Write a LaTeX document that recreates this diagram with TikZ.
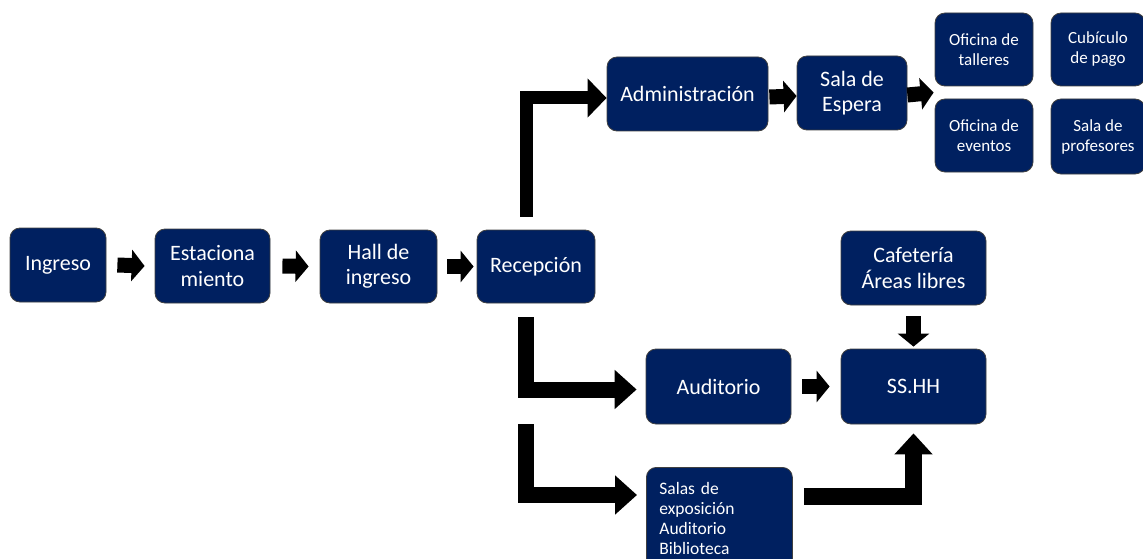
\documentclass[tikz,border=0pt]{standalone}
\usepackage{fontspec}
\setmainfont{Carlito}
\usetikzlibrary{arrows.meta,calc}
\definecolor{navyc}{HTML}{002060}
\definecolor{edgec}{HTML}{404040}
\begin{document}
\begin{tikzpicture}[x=1pt,y=-1pt,
  box/.style={draw=edgec,line width=0.8pt,fill=navyc,rounded corners=10pt,text=white,
    inner sep=2pt,align=center,font=\fontsize{22}{25.5}\selectfont},
  sbox/.style={box,font=\fontsize{17}{20}\selectfont},
  sarrow/.style={line width=15pt,-{Triangle[length=13pt,width=31pt]}},
  barrow/.style={line width=16pt,line join=miter,-{Triangle[length=22pt,width=38pt]}}]
\useasboundingbox (0,0) rectangle (1143,559);
% nodes
\node[box,minimum width=96pt,minimum height=74pt] (ingreso) at (58,265) {Ingreso};
\node[box,minimum width=115pt,minimum height=74pt] (est) at (212.5,266) {Estaciona\\miento};
\node[box,minimum width=117pt,minimum height=73pt] (hall) at (378.5,266.5) {Hall de\\ingreso};
\node[box,minimum width=118pt,minimum height=73pt] (recep) at (536,266.5) {Recepción};
\node[box,minimum width=161pt,minimum height=74pt] (admin) at (687.5,94) {Administración};
\node[box,minimum width=110pt,minimum height=74pt] (sala) at (852,93) {Sala de\\Espera};
\node[sbox,minimum width=98pt,minimum height=73pt] (oft) at (984,49.5) {Oficina de\\talleres};
\node[sbox,minimum width=98pt,minimum height=73pt] (ofe) at (984,135.5) {Oficina de\\eventos};
\node[sbox,minimum width=94pt,minimum height=73pt] (cub) at (1098,49.5) {Cubículo\\de pago};
\node[sbox,minimum width=94pt,minimum height=75pt] (prof) at (1098,136.5) {Sala de\\profesores};
\node[box,minimum width=145pt,minimum height=74pt] (caf) at (913.5,268) {Cafetería\\Áreas libres};
\node[box,minimum width=145pt,minimum height=75pt] (aud) at (718.5,386.5) {Auditorio};
\node[box,minimum width=145pt,minimum height=75pt] (ss) at (913.5,386.5) {SS.HH};
\node[box,anchor=north west,inner xsep=13pt,text width=120pt,minimum height=103pt,align=left,font=\fontsize{17.5}{20}\selectfont]
  (salas) at (646,467) {Salas de\\exposición\\Auditorio\\Biblioteca};
% straight arrows
\draw[sarrow] ([xshift=11pt]ingreso.east) -- ([xshift=-10pt]est.west);
\draw[sarrow] ([xshift=12pt]est.east) -- ([xshift=-11pt]hall.west);
\draw[sarrow] ([xshift=10pt]hall.east) -- ([xshift=-3pt]recep.west);
\draw[sarrow] ([xshift=1pt,yshift=-3pt]admin.east) -- ([yshift=-3pt]sala.west -| sala.west);
\draw[sarrow] ([xshift=0pt,yshift=-2pt]sala.east) -- ($(oft.west)!0.5!(ofe.west)+(-1,0)$);
\draw[sarrow] ([xshift=11pt]aud.east) -- ([xshift=-11pt]ss.west);
\draw[sarrow] ([yshift=-11pt]caf.south) -- ([yshift=2pt]ss.north);
% bent arrows
\draw[barrow,line width=13pt,-{Triangle[length=19pt,width=38pt]}]
  ([xshift=-10pt,yshift=13pt]recep.north) |- ([yshift=-4pt]admin.west);
\draw[barrow] ([xshift=-10pt,yshift=-14pt]recep.south) |- ([xshift=-9pt,yshift=-3pt]aud.west);
\draw[barrow] ([xshift=-10pt,yshift=-121pt]recep.south) |- ([xshift=-9pt,yshift=-28pt]salas.north west);
\draw[barrow,line width=17pt,-{Triangle[length=21pt,width=37pt]}]
  ([xshift=11pt,yshift=-29pt]salas.north east) -| ([yshift=-9pt]ss.south);
\end{tikzpicture}
\end{document}
